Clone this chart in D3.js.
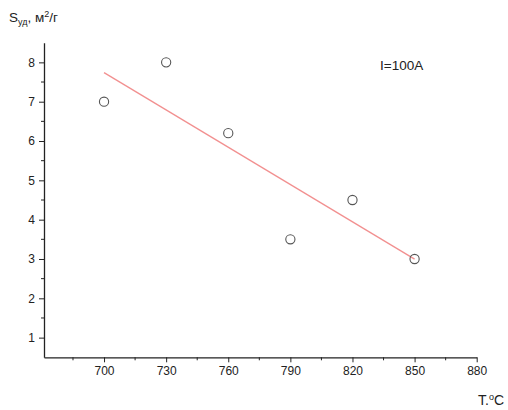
<!DOCTYPE html>
<html><head><meta charset="utf-8">
<script src="https://cdn.jsdelivr.net/npm/d3@7"></script>
<style>
body{margin:0;background:#fff;}
text{font-family:"Liberation Sans",Arial,sans-serif;fill:#222;}
</style></head>
<body><svg id="c" width="508" height="410"></svg>
<script>
const temps = [700, 730, 760, 790, 820, 850];
const area = [7.0, 8.0, 6.2, 3.5, 4.5, 3.0];
const xTicks = [700, 730, 760, 790, 820, 850, 880];
const yTicks = [1, 2, 3, 4, 5, 6, 7, 8];
const label = "I=100A";

const svg = d3.select("#c");
const x = d3.scaleLinear().domain([671, 880]).range([44, 476.7]);
const y = d3.scaleLinear().domain([0.5, 8.5]).range([357.3, 42.7]);

// axes
const xAxis = d3.axisBottom(x).tickValues(xTicks).tickSize(5).tickSizeOuter(0).tickPadding(4);
const gx = svg.append("g").attr("transform","translate(0,357.3)").call(xAxis);
const xMinor = d3.range(685, 880, 30);
gx.selectAll(".minor").data(xMinor).enter().append("line")
  .attr("x1",d=>x(d)).attr("x2",d=>x(d)).attr("y1",0).attr("y2",3).attr("stroke","#222");

const yAxis = d3.axisLeft(y).tickValues(yTicks).tickSize(5).tickSizeOuter(0).tickPadding(4);
const gy = svg.append("g").attr("transform","translate(44,0)").call(yAxis);
const yMinor = d3.range(1.5, 8.5, 1);
gy.selectAll(".minor").data(yMinor).enter().append("line")
  .attr("y1",d=>y(d)).attr("y2",d=>y(d)).attr("x1",0).attr("x2",-3).attr("stroke","#222");

[gx, gy].forEach(g=>{
  g.select(".domain").attr("stroke","#222").attr("stroke-width",1.3);
  g.selectAll(".tick line").attr("stroke","#222");
  g.selectAll(".tick text").attr("font-size",12).attr("fill","#333")
    .attr("font-family","Liberation Sans, Arial, sans-serif");
});

// linear fit
const mx = d3.mean(temps), my = d3.mean(area);
const sxy = d3.sum(temps.map((t,i)=>(t-mx)*(area[i]-my)));
const sxx = d3.sum(temps.map(t=>(t-mx)*(t-mx)));
const slope = sxy/sxx, icpt = my - slope*mx;
const xe = d3.extent(temps);
svg.append("line")
  .attr("x1",x(xe[0])).attr("y1",y(icpt+slope*xe[0]))
  .attr("x2",x(xe[1])).attr("y2",y(icpt+slope*xe[1]))
  .attr("stroke","#f29090").attr("stroke-width",1.3);

// points
svg.selectAll(".pt").data(temps).enter().append("circle")
  .attr("cx",d=>x(d)).attr("cy",(d,i)=>y(area[i])).attr("r",4.6)
  .attr("fill","none").attr("stroke","#555").attr("stroke-width",1.1);

// labels
svg.append("text").attr("x",380).attr("y",70).attr("font-size",13.5).text(label);

const yt = svg.append("text").attr("x",9).attr("y",22).attr("font-size",13.5);
yt.append("tspan").text("S");
yt.append("tspan").attr("font-size",9).attr("dy",3).text("уд");
yt.append("tspan").attr("dy",-3).text(", м");
yt.append("tspan").attr("font-size",9).attr("dy",-5).text("2");
yt.append("tspan").attr("dy",5).text("/г");

const xt = svg.append("text").attr("x",478).attr("y",405).attr("font-size",14);
xt.append("tspan").text("T.");
xt.append("tspan").attr("font-size",9).attr("dy",-5).text("o");
xt.append("tspan").attr("dy",5).text("C");
</script></body></html>
